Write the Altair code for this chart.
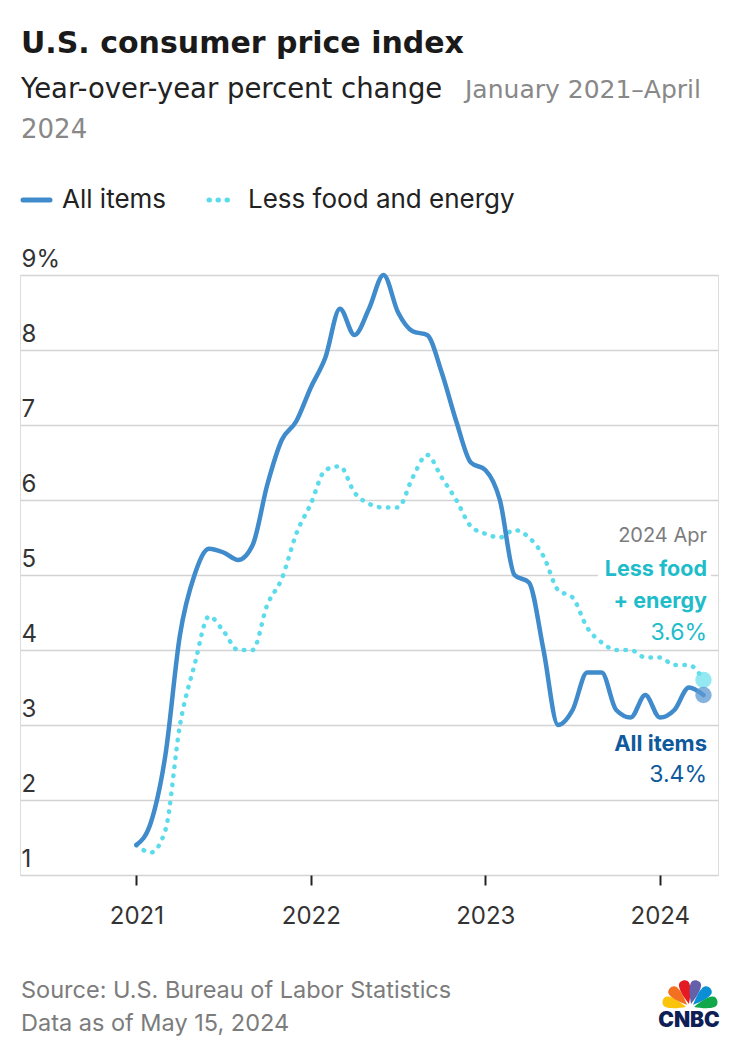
import altair as alt
import pandas as pd

# ---- data (year-over-year % change, monthly Jan 2021 .. Apr 2024) ----
start_year = 2021
all_items = [1.4, 1.7, 2.6, 4.2, 5.0, 5.35, 5.3, 5.2, 5.4, 6.2, 6.8, 7.05,
             7.5, 7.9, 8.55, 8.2, 8.55, 9.0, 8.5, 8.25, 8.2, 7.7, 7.05, 6.5,
             6.4, 6.0, 5.0, 4.9, 4.0, 3.0, 3.2, 3.7, 3.7, 3.2, 3.1, 3.4,
             3.1, 3.2, 3.5, 3.4]
core = [1.4, 1.3, 1.6, 3.0, 3.8, 4.45, 4.25, 4.0, 4.0, 4.6, 4.95, 5.55,
        5.95, 6.4, 6.45, 6.1, 5.95, 5.9, 5.9, 6.3, 6.6, 6.3, 6.0, 5.65,
        5.55, 5.5, 5.6, 5.5, 5.25, 4.8, 4.7, 4.3, 4.1, 4.0, 4.0, 3.9,
        3.9, 3.8, 3.8, 3.6]
series_names = ["All items", "Less food and energy"]
year_ticks = [0, 12, 24, 36]          # month index of each January
y_ticks = [1, 2, 3, 4, 5, 6, 7, 8, 9]

n = len(all_items)
months = list(range(n))
df_all = pd.DataFrame({"m": months, "v": all_items, "s": series_names[0]})
df_core = pd.DataFrame({"m": months, "v": core, "s": series_names[1]})

FONT = "Inter"
HEAD_FONT = "DejaVu Sans"
BLUE = "#3F8BCB"
CYAN = "#5CDCEB"
TEAL_TXT = "#1FBCCA"
DARK_BLUE_TXT = "#0E5A9C"
GREY = "#7C7C7C"
DARK = "#222222"

x_enc = alt.X(
    "m:Q",
    scale=alt.Scale(domain=[-8, 40], nice=False, zero=False),
    axis=alt.Axis(
        values=year_ticks,
        labelExpr=f"'' + ({start_year} + datum.value / 12)",
        title=None, grid=False, domain=False,
        ticks=True, tickSize=10, tickWidth=2, tickColor=DARK,
        labelFont=FONT, labelFontSize=24, labelColor="#333333",
        labelPadding=19, labelFlush=False,
    ),
)
y_enc = alt.Y(
    "v:Q",
    scale=alt.Scale(domain=[1, 9], nice=False, zero=False),
    axis=alt.Axis(
        values=y_ticks,
        labelExpr="datum.value == 9 ? '9%' : datum.label",
        title=None, domain=False, ticks=False, tickSize=0,
        grid=True, gridColor="#D3D3D3", gridWidth=1.6,
        labelAlign="left", labelBaseline="alphabetic",
        labelPadding=-1, labelOffset=-9,
        labelFont=FONT, labelFontSize=24, labelColor="#333333",
    ),
)


def label(text, x, y, size, color, weight="normal", align="left", font=FONT):
    return alt.Chart(pd.DataFrame({"t": [text]})).mark_text(
        align=align, baseline="alphabetic", font=font, fontSize=size,
        fontWeight=weight, color=color,
    ).encode(text="t:N", x=alt.value(x), y=alt.value(y))


one = pd.DataFrame({"k": [0]})

# white box behind the "Less food" annotation
white_box = alt.Chart(one).mark_rect(color="white").encode(
    x=alt.value(578), x2=alt.value(691), y=alt.value(284), y2=alt.value(306)
)

core_line = alt.Chart(df_core).mark_line(
    interpolate="monotone", color=CYAN, strokeWidth=4.5,
    strokeDash=[0.5, 8.5], strokeCap="round",
).encode(x=x_enc, y=y_enc)

all_line = alt.Chart(df_all).mark_line(
    interpolate="monotone", color=BLUE, strokeWidth=4.5,
    strokeCap="round", strokeJoin="round",
).encode(x=x_enc, y=y_enc)

core_end = alt.Chart(df_core.tail(1)).mark_circle(
    size=270, color="#6FE0EC", opacity=0.75
).encode(x=x_enc, y=y_enc)
all_end = alt.Chart(df_all.tail(1)).mark_circle(
    size=270, color="#5E98D3", opacity=0.75
).encode(x=x_enc, y=y_enc)

# end-value annotations
ann = [
    label("2024 Apr", 687, 267, 20, GREY, align="right"),
    label("Less food", 687, 301, 21.5, TEAL_TXT, "bold", "right"),
    label("+ energy", 687, 333, 21.5, TEAL_TXT, "bold", "right"),
    label(f"{core[-1]:.1f}%", 687, 365, 23, TEAL_TXT, align="right"),
    label("All items", 687, 476, 22, DARK_BLUE_TXT, "bold", "right"),
    label(f"{all_items[-1]:.1f}%", 687, 507, 23, DARK_BLUE_TXT, align="right"),
]

# header
header = [
    label("U.S. consumer price index", 1, -222, 30, "#1A1A1A", "bold", font=HEAD_FONT),
    label("Year-over-year percent change", 1, -177, 27.5, DARK, font=HEAD_FONT),
    label("January 2021\u2013April", 445, -177, 25, "#888888", font=HEAD_FONT),
    label("2024", 1, -137, 26, "#888888", font=HEAD_FONT),
]

# legend
leg_all = alt.Chart(one).mark_rule(color=BLUE, strokeWidth=5, strokeCap="round").encode(
    x=alt.value(3), x2=alt.value(30), y=alt.value(-75)
)
leg_core = alt.Chart(one).mark_rule(
    color=CYAN, strokeWidth=5, strokeCap="round", strokeDash=[0.5, 8.5]
).encode(x=alt.value(189), x2=alt.value(208), y=alt.value(-75))
legend = [
    leg_all, leg_core,
    label(series_names[0], 42, -67, 26, DARK),
    label(series_names[1], 228, -67, 26, DARK),
]

# footer
footer = [
    label("Source: U.S. Bureau of Labor Statistics", 1, 723, 23.5, GREY),
    label("Data as of May 15, 2024", 1, 756, 23.5, GREY),
    label("CNBC", 669, 752, 21, "#0F1F56", 900, "center"),
]

# CNBC peacock feathers (decorative logo)
FEATHER = ("M0,-0.14 C-0.08,-0.32 -0.2,-0.6 -0.18,-0.8 "
           "C-0.16,-0.99 0.16,-0.99 0.18,-0.8 C0.2,-0.6 0.08,-0.32 0,-0.14 Z")
feathers = []
for ang, col in [(285, "#FCC30B"), (315, "#F37021"), (346, "#E51B24"),
                 (14, "#6460AA"), (45, "#0A8FD6"), (75, "#10A84A")]:
    feathers.append(
        alt.Chart(one).mark_point(
            shape=FEATHER, filled=True, size=3600, angle=ang,
            color=col, opacity=1, strokeWidth=0,
        ).encode(x=alt.value(670), y=alt.value(733))
    )

chart = alt.layer(
    white_box, core_line, all_line, core_end, all_end,
    *ann, *header, *legend, *footer, *feathers,
).properties(
    width=698, height=600,
    padding={"left": 12, "top": 267, "right": 12, "bottom": 170},
    autosize=alt.AutoSizeParams(type="none"),
).configure_view(stroke=None).configure(font=FONT)

chart.save("out.html", embed_options={"renderer": "svg", "actions": False})
